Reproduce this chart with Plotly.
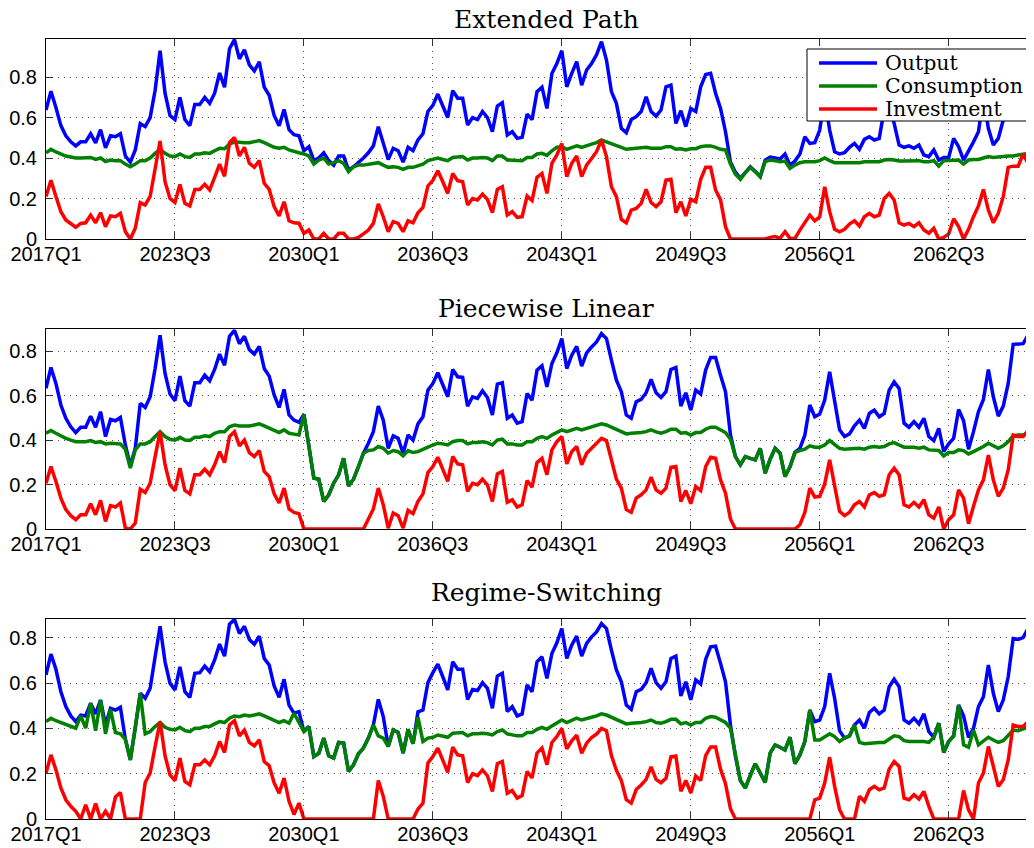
import plotly.graph_objects as go

# ---------------- data ----------------
quarters = [f"{2017 + k // 4}Q{k % 4 + 1}" for k in range(200)]
tick_labels = ["2017Q1", "2023Q3", "2030Q1", "2036Q3", "2043Q1", "2049Q3", "2056Q1", "2062Q3"]
y_tick_vals = [0, 0.2, 0.4, 0.6, 0.8]
y_tick_text = ["0", "0.2", "0.4", "0.6", "0.8"]
panel_titles = ["Extended Path", "Piecewise Linear", "Regime-Switching"]
series_names = ["Output", "Consumption", "Investment"]

ep_output = [
    0.637, 0.73, 0.65, 0.56, 0.51, 0.48, 0.46, 0.48, 0.48, 0.52,
    0.475, 0.54, 0.45, 0.51, 0.505, 0.52, 0.41, 0.38, 0.44, 0.57,
    0.555, 0.60, 0.735, 0.93, 0.72, 0.61, 0.59, 0.70, 0.59, 0.56,
    0.665, 0.665, 0.70, 0.67, 0.72, 0.82, 0.75, 0.94, 0.985, 0.89,
    0.935, 0.86, 0.83, 0.875, 0.75, 0.71, 0.61, 0.56, 0.64, 0.54,
    0.515, 0.51, 0.436, 0.456, 0.387, 0.40, 0.426, 0.387, 0.365, 0.41,
    0.41, 0.34, 0.357, 0.377, 0.40, 0.426, 0.46, 0.555, 0.48, 0.393,
    0.448, 0.436, 0.38, 0.453, 0.436, 0.49, 0.52, 0.63, 0.66, 0.716,
    0.657, 0.60, 0.733, 0.695, 0.695, 0.563, 0.60, 0.59, 0.63, 0.60,
    0.53, 0.657, 0.673, 0.514, 0.53, 0.497, 0.502, 0.617, 0.59, 0.728,
    0.75, 0.645, 0.818, 0.867, 0.93, 0.752, 0.818, 0.876, 0.76, 0.835,
    0.867, 0.91, 0.975, 0.884, 0.728, 0.67, 0.547, 0.525, 0.59, 0.604,
    0.63, 0.703, 0.63, 0.607, 0.637, 0.752, 0.76, 0.571, 0.634, 0.555,
    0.645, 0.63, 0.752, 0.813, 0.818, 0.72, 0.645, 0.53, 0.38, 0.33,
    0.30, 0.328, 0.357, 0.333, 0.308, 0.39, 0.405, 0.40, 0.395, 0.42,
    0.365, 0.385, 0.42, 0.505, 0.472, 0.476, 0.538, 0.70, 0.538, 0.431,
    0.42, 0.426, 0.453, 0.472, 0.443, 0.492, 0.505, 0.489, 0.497, 0.64,
    0.66, 0.571, 0.464, 0.453, 0.46, 0.448, 0.464, 0.415, 0.407, 0.44,
    0.39, 0.403, 0.403, 0.497, 0.456, 0.39, 0.431, 0.48, 0.53, 0.70,
    0.547, 0.464, 0.497, 0.588, 0.70, 0.85, 0.86, 0.86, 0.90, 0.86,
]
ep_consumption = [
    0.426, 0.443, 0.43, 0.42, 0.41, 0.405, 0.40, 0.40, 0.40, 0.403,
    0.393, 0.40, 0.383, 0.39, 0.387, 0.387, 0.37, 0.357, 0.37, 0.387,
    0.387, 0.40, 0.423, 0.443, 0.423, 0.41, 0.407, 0.42, 0.407, 0.403,
    0.42, 0.42, 0.426, 0.423, 0.436, 0.448, 0.446, 0.469, 0.48, 0.476,
    0.476, 0.476, 0.48, 0.486, 0.476, 0.464, 0.453, 0.448, 0.453, 0.44,
    0.431, 0.426, 0.42, 0.41, 0.37, 0.39, 0.40, 0.37, 0.377, 0.387,
    0.374, 0.333, 0.357, 0.365, 0.365, 0.369, 0.37, 0.377, 0.365, 0.354,
    0.357, 0.354, 0.344, 0.354, 0.354, 0.36, 0.37, 0.387, 0.393, 0.40,
    0.393, 0.387, 0.403, 0.403, 0.407, 0.39, 0.40, 0.40, 0.403, 0.40,
    0.387, 0.41, 0.41, 0.39, 0.39, 0.387, 0.387, 0.403, 0.403, 0.42,
    0.423, 0.413, 0.436, 0.453, 0.456, 0.443, 0.453, 0.46, 0.453, 0.463,
    0.469, 0.476, 0.489, 0.48, 0.472, 0.464, 0.453, 0.443, 0.446, 0.448,
    0.448, 0.453, 0.448, 0.446, 0.448, 0.456, 0.456, 0.443, 0.446, 0.44,
    0.446, 0.446, 0.456, 0.46, 0.46, 0.453, 0.443, 0.44, 0.37, 0.32,
    0.295, 0.328, 0.354, 0.333, 0.308, 0.382, 0.39, 0.387, 0.382, 0.385,
    0.349, 0.365, 0.377, 0.382, 0.382, 0.382, 0.387, 0.40, 0.387, 0.377,
    0.377, 0.377, 0.38, 0.38, 0.377, 0.382, 0.382, 0.382, 0.382, 0.39,
    0.393, 0.39, 0.385, 0.385, 0.385, 0.385, 0.387, 0.382, 0.382, 0.387,
    0.36, 0.387, 0.387, 0.39, 0.39, 0.37, 0.39, 0.393, 0.393, 0.40,
    0.407, 0.403, 0.403, 0.407, 0.41, 0.41, 0.415, 0.42, 0.423, 0.426,
]
ep_investment = [
    0.21, 0.29, 0.21, 0.135, 0.094, 0.074, 0.058, 0.077, 0.08, 0.118,
    0.08, 0.13, 0.061, 0.114, 0.11, 0.127, 0.036, 0.0, 0.053, 0.18,
    0.168, 0.21, 0.34, 0.484, 0.283, 0.20, 0.18, 0.27, 0.176, 0.163,
    0.245, 0.245, 0.27, 0.242, 0.305, 0.37, 0.31, 0.476, 0.502, 0.41,
    0.453, 0.374, 0.354, 0.387, 0.275, 0.245, 0.16, 0.114, 0.184, 0.09,
    0.08, 0.078, 0.028, 0.044, 0.0, 0.0, 0.028, 0.0, 0.0, 0.028,
    0.028, 0.0, 0.0, 0.008, 0.025, 0.044, 0.077, 0.173, 0.11, 0.036,
    0.086, 0.077, 0.036, 0.09, 0.08, 0.13, 0.156, 0.262, 0.29, 0.337,
    0.283, 0.225, 0.324, 0.288, 0.283, 0.168, 0.20, 0.193, 0.222, 0.196,
    0.13, 0.245, 0.258, 0.118, 0.135, 0.107, 0.11, 0.212, 0.19, 0.305,
    0.324, 0.225, 0.374, 0.415, 0.472, 0.308, 0.374, 0.41, 0.308, 0.365,
    0.398, 0.431, 0.489, 0.407, 0.258, 0.209, 0.097, 0.08, 0.143, 0.151,
    0.176, 0.245, 0.18, 0.16, 0.184, 0.291, 0.295, 0.13, 0.184, 0.114,
    0.196, 0.184, 0.295, 0.354, 0.354, 0.242, 0.193, 0.061, 0.0, 0.0,
    0.0, 0.0, 0.0, 0.0, 0.0, 0.0, 0.008, 0.012, 0.003, 0.036,
    0.003, 0.003, 0.044, 0.08, 0.118, 0.09, 0.11, 0.258, 0.135, 0.048,
    0.036, 0.048, 0.074, 0.09, 0.064, 0.11, 0.127, 0.11, 0.118, 0.20,
    0.225, 0.193, 0.08, 0.069, 0.077, 0.061, 0.08, 0.044, 0.028, 0.053,
    0.0, 0.008, 0.025, 0.10, 0.061, 0.0, 0.048, 0.11, 0.163, 0.245,
    0.143, 0.08, 0.127, 0.209, 0.354, 0.36, 0.36, 0.42, 0.374, 0.344,
]

pl_output = [
    0.633, 0.727, 0.655, 0.558, 0.498, 0.46, 0.434, 0.458, 0.458, 0.508,
    0.458, 0.528, 0.416, 0.493, 0.487, 0.502, 0.378, 0.285, 0.363, 0.565,
    0.547, 0.595, 0.722, 0.872, 0.70, 0.607, 0.577, 0.688, 0.577, 0.553,
    0.658, 0.658, 0.692, 0.667, 0.718, 0.787, 0.737, 0.867, 0.894, 0.834,
    0.867, 0.807, 0.787, 0.822, 0.722, 0.688, 0.603, 0.547, 0.628, 0.513,
    0.49, 0.48, 0.516, 0.363, 0.229, 0.224, 0.124, 0.154, 0.206, 0.244,
    0.318, 0.194, 0.224, 0.281, 0.341, 0.386, 0.438, 0.553, 0.49, 0.363,
    0.419, 0.408, 0.341, 0.423, 0.40, 0.473, 0.505, 0.625, 0.655, 0.703,
    0.647, 0.595, 0.718, 0.685, 0.682, 0.553, 0.595, 0.588, 0.622, 0.592,
    0.513, 0.652, 0.658, 0.498, 0.513, 0.476, 0.483, 0.61, 0.58, 0.715,
    0.735, 0.64, 0.745, 0.793, 0.857, 0.722, 0.782, 0.822, 0.733, 0.793,
    0.819, 0.842, 0.879, 0.857, 0.76, 0.67, 0.618, 0.513, 0.498, 0.573,
    0.583, 0.613, 0.673, 0.613, 0.592, 0.618, 0.718, 0.727, 0.553, 0.613,
    0.535, 0.625, 0.607, 0.715, 0.772, 0.772, 0.692, 0.618, 0.423, 0.326,
    0.289, 0.326, 0.318, 0.311, 0.363, 0.251, 0.314, 0.363, 0.341, 0.236,
    0.28, 0.345, 0.363, 0.423, 0.558, 0.505, 0.517, 0.58, 0.707, 0.58,
    0.446, 0.416, 0.428, 0.464, 0.49, 0.453, 0.52, 0.535, 0.505, 0.52,
    0.625, 0.662, 0.633, 0.476, 0.458, 0.483, 0.458, 0.498, 0.416, 0.398,
    0.453, 0.348, 0.383, 0.408, 0.538, 0.487, 0.359, 0.438, 0.528, 0.583,
    0.718, 0.595, 0.508, 0.553, 0.655, 0.831, 0.831, 0.834, 0.872, 0.834,
]
pl_consumption = [
    0.431, 0.443, 0.431, 0.419, 0.408, 0.40, 0.393, 0.393, 0.393, 0.398,
    0.389, 0.393, 0.383, 0.386, 0.386, 0.383, 0.359, 0.274, 0.356, 0.383,
    0.383, 0.393, 0.416, 0.438, 0.416, 0.404, 0.40, 0.413, 0.40, 0.398,
    0.413, 0.413, 0.419, 0.416, 0.431, 0.438, 0.438, 0.46, 0.468, 0.464,
    0.464, 0.464, 0.468, 0.473, 0.464, 0.453, 0.443, 0.434, 0.446, 0.431,
    0.427, 0.423, 0.516, 0.363, 0.229, 0.224, 0.124, 0.154, 0.206, 0.244,
    0.318, 0.194, 0.224, 0.281, 0.341, 0.353, 0.356, 0.371, 0.363, 0.341,
    0.353, 0.348, 0.329, 0.353, 0.344, 0.348, 0.356, 0.368, 0.378, 0.386,
    0.383, 0.378, 0.393, 0.398, 0.398, 0.383, 0.389, 0.389, 0.393, 0.389,
    0.378, 0.40, 0.404, 0.383, 0.383, 0.378, 0.378, 0.393, 0.393, 0.408,
    0.416, 0.408, 0.423, 0.434, 0.446, 0.438, 0.446, 0.453, 0.446, 0.453,
    0.458, 0.464, 0.473, 0.468, 0.458, 0.449, 0.438, 0.428, 0.431, 0.431,
    0.434, 0.438, 0.446, 0.437, 0.431, 0.438, 0.449, 0.449, 0.431, 0.434,
    0.423, 0.434, 0.434, 0.449, 0.458, 0.458, 0.446, 0.434, 0.404, 0.326,
    0.289, 0.326, 0.318, 0.311, 0.363, 0.251, 0.314, 0.363, 0.341, 0.236,
    0.28, 0.345, 0.353, 0.359, 0.374, 0.368, 0.368, 0.378, 0.398, 0.378,
    0.363, 0.359, 0.359, 0.362, 0.363, 0.359, 0.368, 0.371, 0.368, 0.371,
    0.383, 0.389, 0.378, 0.368, 0.368, 0.368, 0.363, 0.368, 0.356, 0.356,
    0.353, 0.329, 0.344, 0.344, 0.356, 0.353, 0.338, 0.348, 0.359, 0.371,
    0.386, 0.374, 0.363, 0.374, 0.393, 0.419, 0.423, 0.423, 0.431, 0.434,
]
pl_investment = [
    0.206, 0.281, 0.214, 0.139, 0.087, 0.06, 0.042, 0.064, 0.064, 0.114,
    0.064, 0.129, 0.034, 0.105, 0.099, 0.117, 0.004, 0.0, 0.027, 0.179,
    0.164, 0.206, 0.326, 0.438, 0.289, 0.199, 0.173, 0.274, 0.173, 0.158,
    0.244, 0.244, 0.269, 0.244, 0.289, 0.348, 0.299, 0.416, 0.438, 0.374,
    0.40, 0.344, 0.326, 0.353, 0.259, 0.236, 0.158, 0.117, 0.184, 0.09,
    0.075, 0.069, 0.0, 0.0, 0.0, 0.0, 0.0, 0.0, 0.0, 0.0,
    0.0, 0.0, 0.0, 0.0, 0.0, 0.045, 0.09, 0.184, 0.109, 0.004,
    0.072, 0.06, 0.004, 0.084, 0.069, 0.124, 0.158, 0.254, 0.281, 0.323,
    0.269, 0.214, 0.326, 0.293, 0.289, 0.169, 0.206, 0.199, 0.224, 0.199,
    0.124, 0.248, 0.259, 0.12, 0.132, 0.099, 0.109, 0.218, 0.188, 0.299,
    0.318, 0.244, 0.356, 0.393, 0.416, 0.293, 0.348, 0.371, 0.289, 0.341,
    0.363, 0.383, 0.408, 0.398, 0.311, 0.224, 0.184, 0.087, 0.075, 0.139,
    0.154, 0.176, 0.233, 0.176, 0.161, 0.184, 0.278, 0.281, 0.124, 0.173,
    0.114, 0.191, 0.173, 0.281, 0.323, 0.318, 0.221, 0.161, 0.045, 0.0,
    0.0, 0.0, 0.0, 0.0, 0.0, 0.0, 0.0, 0.0, 0.0, 0.0,
    0.0, 0.0, 0.019, 0.075, 0.184, 0.144, 0.147, 0.203, 0.311, 0.203,
    0.079, 0.06, 0.075, 0.109, 0.124, 0.099, 0.154, 0.164, 0.147, 0.154,
    0.244, 0.274, 0.244, 0.109, 0.099, 0.12, 0.099, 0.132, 0.064, 0.049,
    0.099, 0.0, 0.042, 0.064, 0.176, 0.139, 0.024, 0.102, 0.176, 0.221,
    0.333, 0.221, 0.147, 0.184, 0.266, 0.423, 0.416, 0.416, 0.443, 0.398,
]

rs_output = [
    0.636, 0.728, 0.661, 0.562, 0.496, 0.455, 0.43, 0.459, 0.455, 0.511,
    0.464, 0.525, 0.415, 0.489, 0.481, 0.493, 0.352, 0.261, 0.401, 0.555,
    0.533, 0.577, 0.716, 0.851, 0.694, 0.599, 0.57, 0.672, 0.562, 0.537,
    0.643, 0.646, 0.675, 0.65, 0.702, 0.772, 0.719, 0.86, 0.881, 0.819,
    0.851, 0.793, 0.772, 0.807, 0.709, 0.68, 0.587, 0.537, 0.617, 0.503,
    0.467, 0.474, 0.386, 0.408, 0.276, 0.29, 0.357, 0.279, 0.269, 0.338,
    0.335, 0.21, 0.239, 0.288, 0.313, 0.357, 0.415, 0.528, 0.452, 0.32,
    0.393, 0.382, 0.291, 0.396, 0.332, 0.473, 0.481, 0.602, 0.646, 0.684,
    0.628, 0.57, 0.694, 0.661, 0.661, 0.528, 0.572, 0.567, 0.602, 0.577,
    0.489, 0.631, 0.643, 0.474, 0.496, 0.455, 0.464, 0.592, 0.562, 0.694,
    0.716, 0.621, 0.731, 0.778, 0.841, 0.709, 0.768, 0.807, 0.719, 0.775,
    0.804, 0.826, 0.863, 0.841, 0.746, 0.658, 0.606, 0.503, 0.484, 0.562,
    0.572, 0.602, 0.665, 0.602, 0.577, 0.606, 0.709, 0.719, 0.543, 0.606,
    0.526, 0.614, 0.596, 0.705, 0.76, 0.763, 0.687, 0.606, 0.415, 0.276,
    0.17, 0.137, 0.195, 0.244, 0.203, 0.161, 0.291, 0.327, 0.317, 0.305,
    0.361, 0.244, 0.283, 0.342, 0.481, 0.43, 0.437, 0.496, 0.643, 0.533,
    0.39, 0.357, 0.367, 0.415, 0.437, 0.401, 0.47, 0.489, 0.464, 0.481,
    0.584, 0.617, 0.584, 0.437, 0.423, 0.445, 0.42, 0.464, 0.386, 0.361,
    0.423, 0.294, 0.342, 0.367, 0.503, 0.455, 0.36, 0.40, 0.496, 0.54,
    0.68, 0.555, 0.474, 0.525, 0.628, 0.797, 0.793, 0.801, 0.841, 0.797,
]
rs_consumption = [
    0.43, 0.445, 0.434, 0.426, 0.415, 0.408, 0.401, 0.455, 0.401, 0.511,
    0.39, 0.525, 0.376, 0.484, 0.382, 0.376, 0.352, 0.261, 0.401, 0.555,
    0.376, 0.386, 0.408, 0.426, 0.405, 0.396, 0.393, 0.405, 0.39, 0.386,
    0.401, 0.401, 0.408, 0.408, 0.42, 0.43, 0.426, 0.445, 0.455, 0.452,
    0.459, 0.455, 0.459, 0.464, 0.455, 0.445, 0.434, 0.426, 0.434, 0.423,
    0.467, 0.43, 0.386, 0.408, 0.276, 0.29, 0.357, 0.279, 0.269, 0.338,
    0.335, 0.21, 0.239, 0.288, 0.313, 0.357, 0.415, 0.367, 0.357, 0.32,
    0.393, 0.382, 0.291, 0.396, 0.332, 0.449, 0.342, 0.357, 0.361, 0.371,
    0.367, 0.361, 0.379, 0.379, 0.382, 0.367, 0.376, 0.376, 0.379, 0.376,
    0.371, 0.386, 0.393, 0.376, 0.371, 0.367, 0.367, 0.382, 0.382, 0.396,
    0.405, 0.396, 0.411, 0.426, 0.437, 0.426, 0.434, 0.445, 0.437, 0.445,
    0.449, 0.455, 0.464, 0.459, 0.449, 0.44, 0.43, 0.42, 0.423, 0.423,
    0.426, 0.43, 0.437, 0.426, 0.423, 0.43, 0.44, 0.44, 0.42, 0.426,
    0.415, 0.426, 0.426, 0.445, 0.452, 0.449, 0.437, 0.426, 0.401, 0.276,
    0.17, 0.137, 0.195, 0.244, 0.203, 0.161, 0.291, 0.327, 0.317, 0.305,
    0.361, 0.244, 0.283, 0.342, 0.481, 0.349, 0.349, 0.361, 0.376, 0.364,
    0.342, 0.357, 0.367, 0.415, 0.338, 0.332, 0.335, 0.338, 0.338, 0.338,
    0.352, 0.367, 0.364, 0.346, 0.342, 0.342, 0.342, 0.342, 0.338, 0.361,
    0.423, 0.294, 0.342, 0.367, 0.503, 0.327, 0.317, 0.393, 0.327, 0.346,
    0.361, 0.349, 0.338, 0.346, 0.371, 0.393, 0.39, 0.396, 0.405, 0.401,
]
rs_investment = [
    0.203, 0.283, 0.217, 0.137, 0.085, 0.056, 0.034, 0.0, 0.063, 0.0,
    0.068, 0.0, 0.034, 0.0, 0.097, 0.117, 0.0, 0.0, 0.0, 0.0,
    0.161, 0.203, 0.32, 0.43, 0.279, 0.195, 0.17, 0.269, 0.166, 0.151,
    0.239, 0.239, 0.261, 0.239, 0.279, 0.342, 0.294, 0.415, 0.434, 0.367,
    0.393, 0.338, 0.323, 0.349, 0.254, 0.235, 0.159, 0.114, 0.181, 0.078,
    0.02, 0.07, 0.0, 0.0, 0.0, 0.0, 0.0, 0.0, 0.0, 0.0,
    0.0, 0.0, 0.0, 0.0, 0.0, 0.0, 0.0, 0.17, 0.1, 0.0,
    0.0, 0.0, 0.0, 0.0, 0.0, 0.044, 0.07, 0.247, 0.276, 0.313,
    0.264, 0.206, 0.317, 0.283, 0.279, 0.161, 0.2, 0.191, 0.217, 0.191,
    0.122, 0.244, 0.254, 0.114, 0.126, 0.092, 0.103, 0.21, 0.181, 0.291,
    0.313, 0.24, 0.338, 0.364, 0.40, 0.31, 0.345, 0.37, 0.29, 0.335,
    0.36, 0.375, 0.40, 0.39, 0.28, 0.215, 0.17, 0.085, 0.07, 0.13,
    0.15, 0.175, 0.23, 0.175, 0.16, 0.18, 0.275, 0.278, 0.122, 0.17,
    0.115, 0.19, 0.17, 0.28, 0.318, 0.318, 0.22, 0.156, 0.045, 0.0,
    0.0, 0.0, 0.0, 0.0, 0.0, 0.0, 0.0, 0.0, 0.0, 0.0,
    0.0, 0.0, 0.0, 0.0, 0.0, 0.085, 0.092, 0.159, 0.273, 0.144,
    0.041, 0.0, 0.0, 0.0, 0.1, 0.078, 0.129, 0.144, 0.129, 0.137,
    0.22, 0.254, 0.232, 0.092, 0.085, 0.107, 0.088, 0.122, 0.056, 0.0,
    0.0, 0.0, 0.0, 0.0, 0.0, 0.126, 0.04, 0.0, 0.159, 0.203,
    0.32, 0.232, 0.144, 0.173, 0.261, 0.415, 0.408, 0.408, 0.43, 0.393,
]

panels = [
    (ep_output, ep_consumption, ep_investment),
    (pl_output, pl_consumption, pl_investment),
    (rs_output, rs_consumption, rs_investment),
]
for p in panels:
    for s in p:
        assert len(s) == len(quarters), len(s)

# ---------------- styling ----------------
PAGE_W, PAGE_H = 1034, 848
BODY = 8                     # default page margin around the figure div
W, H = PAGE_W - BODY, PAGE_H - BODY
colors = ["#0000ff", "#008000", "#ff0000"]
LW = 3.5
tick_pos = [quarters.index(t) for t in tick_labels]
x_index = list(range(len(quarters)))

# geometry expressed in page pixels of the reference
plot_left = 46
plot_top, plot_bottom = 39, 819
boxes = [(39, 239), (329, 529), (619, 819)]
y_ranges = [[0, 0.988], [0, 0.9], [0, 0.883]]
title_centers = [19.5, 308, 593]
plot_h = plot_bottom - plot_top
plot_w = PAGE_W - plot_left


def py(px):
    return (plot_bottom - px) / plot_h


def pxx(px):
    return (px - plot_left) / plot_w


fig = go.Figure()
for k, (series, box) in enumerate(zip(panels, boxes)):
    ax = "" if k == 0 else str(k + 1)
    for name, vals, col in zip(series_names, series, colors):
        fig.add_trace(go.Scatter(
            x=x_index, y=vals, mode="lines", name=name,
            line=dict(color=col, width=LW),
            xaxis="x" + ax, yaxis="y" + ax,
            showlegend=False, hoverinfo="skip",
        ))
    common = dict(
        showline=True, linecolor="black", linewidth=1, mirror="allticks",
        ticks="inside", ticklen=7, tickwidth=1, tickcolor="#333333",
        showgrid=True, gridcolor="#555555", gridwidth=1, griddash="1px,5px",
        zeroline=False, automargin=False,
        tickfont=dict(family="Liberation Sans", size=20, color="black"),
    )
    fig.update_layout(**{
        "xaxis" + ax: dict(
            common, domain=[0, 1], range=[0, 199.2],
            tickvals=tick_pos, ticktext=tick_labels,
            anchor="y" + ax, ticklabelstandoff=-3,
        ),
        "yaxis" + ax: dict(
            common, domain=[py(box[1]), py(box[0])], range=y_ranges[k],
            tickvals=y_tick_vals, ticktext=y_tick_text,
            anchor="x" + ax, ticklabelstandoff=4,
        ),
    })
    fig.add_annotation(
        text=panel_titles[k], xref="paper", yref="paper",
        x=pxx(546), y=py(title_centers[k]),
        xanchor="center", yanchor="middle", showarrow=False,
        font=dict(family="DejaVu Serif", size=25, color="black"),
    )

# legend box of the first panel (drawn on top of the lines, like the original)
leg_left, leg_right, leg_top, leg_bottom = 807, 1033, 49, 121
leg_rows = [63, 86, 109]
fig.add_shape(type="rect", xref="paper", yref="paper", layer="above",
              x0=pxx(leg_left), x1=pxx(leg_right), y0=py(leg_bottom), y1=py(leg_top),
              fillcolor="white", line=dict(color="black", width=1))
for name, col, row in zip(series_names, colors, leg_rows):
    fig.add_shape(type="line", xref="paper", yref="paper", layer="above",
                  x0=pxx(819), x1=pxx(877), y0=py(row), y1=py(row),
                  line=dict(color=col, width=LW))
    fig.add_annotation(text=name, xref="paper", yref="paper",
                       x=pxx(883), y=py(row), xanchor="left", yanchor="middle",
                       showarrow=False,
                       font=dict(family="DejaVu Serif", size=20.5, color="black"))

fig.update_layout(
    template="none",
    width=W, height=H,
    margin=dict(l=plot_left - BODY, r=0, t=plot_top - BODY,
                b=PAGE_H - plot_bottom, pad=0),
    paper_bgcolor="white", plot_bgcolor="white",
    showlegend=False,
)

fig.write_html("out.html")
